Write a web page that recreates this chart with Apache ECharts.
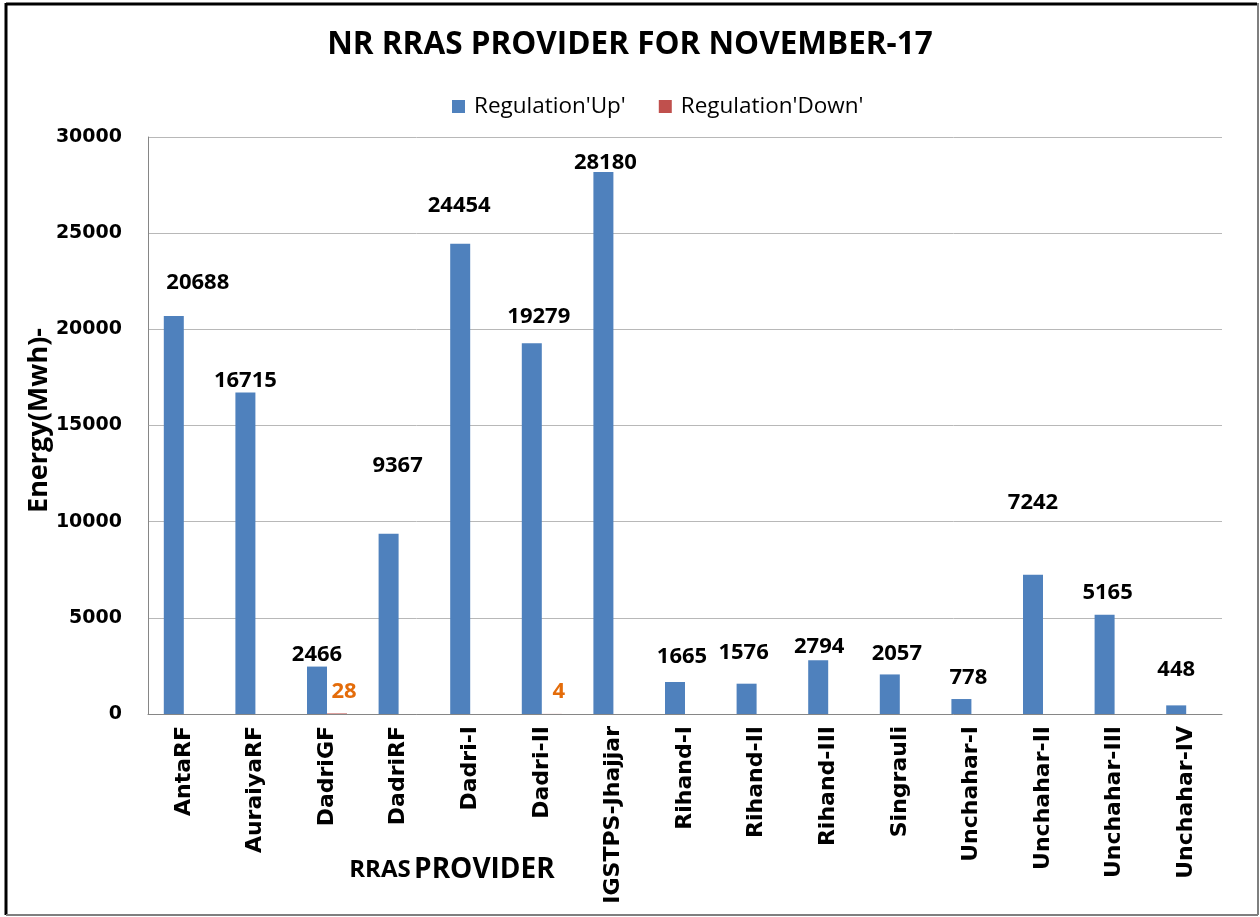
<!DOCTYPE html>
<html>
<head>
<meta charset="utf-8">
<script src="https://cdn.jsdelivr.net/npm/echarts@6/dist/echarts.min.js"></script>
<style>
  html, body { margin: 0; padding: 0; background: #fff; }
  #chart { width: 1260px; height: 917px; }
</style>
</head>
<body>
<div id="chart"></div>
<script>
// ---- data ----
const categories = ['AntaRF', 'AuraiyaRF', 'DadriGF', 'DadriRF', 'Dadri-I', 'Dadri-II', 'IGSTPS-Jhajjar',
  'Rihand-I', 'Rihand-II', 'Rihand-III', 'Singrauli', 'Unchahar-I', 'Unchahar-II', 'Unchahar-III', 'Unchahar-IV'];
const regulationUp = [20688, 16715, 2466, 9367, 24454, 19279, 28180, 1665, 1576, 2794, 2057, 778, 7242, 5165, 448];
const regulationDown = [0, 0, 28, 0, 0, 4, 0, 0, 0, 0, 0, 0, 0, 0, 0];
const yTicks = [0, 5000, 10000, 15000, 20000, 25000, 30000];

// ---- label placement tweaks (style only, px) ----
const upLabelShift = [[24, -17], [0, 4], [0, 4], [9, -52], [-1, -22], [7, -10], [2, 7],
  [7, -9], [-3, -15], [1, 2], [7, -5], [7, -5], [0, -56], [3, -6], [0, -20]];
const downLabelShift = [7, -6];

const chart = echarts.init(document.getElementById('chart'), null, { renderer: 'canvas' });

const upData = regulationUp.map((v, i) => ({
  value: v,
  label: { offset: upLabelShift[i] }
}));
const downData = regulationDown.map(v => ({
  value: v,
  label: { show: v > 0, offset: downLabelShift }
}));

const option = {
  backgroundColor: '#ffffff',
  animation: false,
  title: {
    text: 'NR RRAS PROVIDER FOR NOVEMBER-17',
    left: 'center',
    top: 24,
    textStyle: { fontFamily: 'Open Sans', fontWeight: 'bold', fontSize: 31.5, color: '#000' }
  },
  legend: {
    data: ["Regulation'Up'", "Regulation'Down'"],
    top: 90,
    left: 447,
    itemWidth: 13,
    itemHeight: 13,
    itemGap: 33,
    icon: 'rect',
    textStyle: { fontFamily: 'Open Sans', fontSize: 22.5, color: '#000', padding: [0, 0, 0, 4] }
  },
  grid: { left: 148, right: 38, top: 137, bottom: 203, containLabel: false, outerBoundsMode: 'none' },
  xAxis: {
    type: 'category',
    data: categories,
    name: '{a|RRAS} {b|PROVIDER}',
    nameLocation: 'middle',
    nameMoveOverlap: false,
    nameGap: 142,
    nameTextStyle: {
      padding: [0, 466, 0, 0],
      rich: {
        a: { fontFamily: 'Open Sans', fontWeight: 'bold', fontSize: 24, color: '#000' },
        b: { fontFamily: 'Open Sans', fontWeight: 'bold', fontSize: 28, color: '#000' }
      }
    },
    axisLine: { lineStyle: { color: '#868686', width: 1 } },
    axisTick: { show: false },
    axisLabel: {
      rotate: 90,
      margin: 12,
      interval: 0,
      fontFamily: 'DejaVu Sans',
      fontWeight: 'bold',
      fontSize: 22,
      color: '#000'
    }
  },
  yAxis: {
    type: 'value',
    min: yTicks[0],
    max: yTicks[yTicks.length - 1],
    interval: yTicks[1] - yTicks[0],
    name: 'Energy(Mwh)-',
    nameLocation: 'middle',
    nameMoveOverlap: false,
    nameGap: 95,
    nameTextStyle: { fontFamily: 'Open Sans', fontWeight: 'bold', fontSize: 27, color: '#000', padding: [0, 0, 0, 10] },
    axisLine: { show: true, lineStyle: { color: '#868686', width: 1 } },
    axisTick: { show: false },
    splitLine: { lineStyle: { color: '#b8b8b8', width: 1 } },
    axisLabel: {
      margin: 26,
      fontFamily: 'DejaVu Sans',
      fontWeight: 'bold',
      fontSize: 19,
      color: '#000',
      formatter: v => String(v)
    }
  },
  series: [
    {
      name: "Regulation'Up'",
      type: 'bar',
      data: upData,
      barWidth: 20,
      barGap: '0%',
      itemStyle: { color: '#4F81BD' },
      label: {
        show: true,
        position: 'top',
        distance: 5,
        fontFamily: 'Open Sans',
        fontWeight: 'bold',
        fontSize: 22,
        color: '#000'
      }
    },
    {
      name: "Regulation'Down'",
      type: 'bar',
      data: downData,
      barWidth: 20,
      barGap: '0%',
      itemStyle: { color: '#C0504D' },
      label: {
        show: true,
        position: 'top',
        distance: 5,
        fontFamily: 'Open Sans',
        fontWeight: 'bold',
        fontSize: 22,
        color: '#E46C0A'
      }
    }
  ],
  graphic: [
    { type: 'line', shape: { x1: 6, y1: 4, x2: 1257, y2: 4 }, style: { stroke: '#000', lineWidth: 3 } },
    { type: 'line', shape: { x1: 6, y1: 3, x2: 6, y2: 915 }, style: { stroke: '#000', lineWidth: 3 } },
    { type: 'line', shape: { x1: 1258, y1: 3, x2: 1258, y2: 915 }, style: { stroke: '#7f7f7f', lineWidth: 2 } },
    { type: 'line', shape: { x1: 6, y1: 915, x2: 1258, y2: 915 }, style: { stroke: '#7f7f7f', lineWidth: 2 } }
  ]
};

chart.setOption(option);
</script>
</body>
</html>
